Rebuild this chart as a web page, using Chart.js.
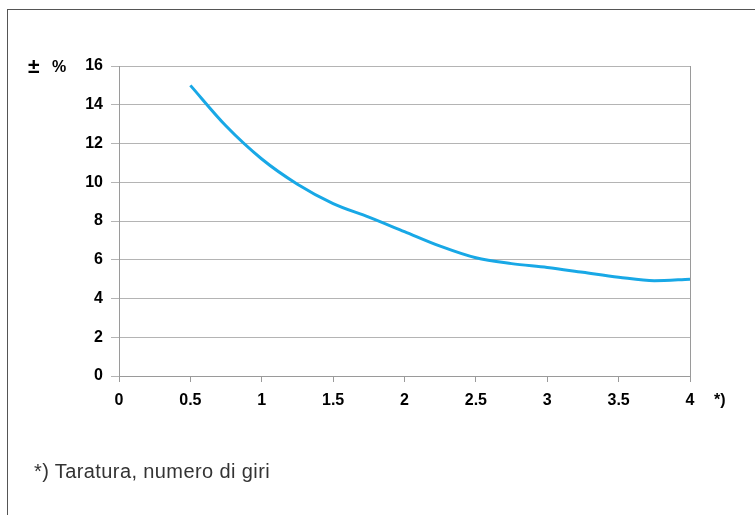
<!DOCTYPE html>
<html lang="it">
<head>
  <meta charset="UTF-8">
  <title>Taratura</title>
  <style>
    html, body { margin: 0; padding: 0; background: #fff; }
    body { width: 755px; height: 515px; position: relative; overflow: hidden; font-family: "Liberation Sans", Arial, sans-serif; }
    .frame { position: absolute; left: 7px; top: 9px; width: 800px; height: 600px; border: 1px solid #555; }
    #wrap { position: absolute; left: 0; top: 0; width: 755px; height: 515px; }
    .lbl { position: absolute; font-weight: bold; font-size: 16px; color: #000; line-height: 1; }
    .note { position: absolute; left: 34px; top: 461px; font-size: 20px; letter-spacing: 0.4px; color: #333; line-height: 1; }
  </style>
</head>
<body>
  <div class="frame"></div>
  <div id="wrap"><canvas id="chart" width="755" height="515"></canvas></div>
  <div class="lbl" style="left:28px; top:55px; font-size:21px;">±</div>
  <div class="lbl" style="left:52px; top:59px;">%</div>
  <div class="lbl" style="left:714px; top:392px;">*)</div>
  <div class="note">*) Taratura, numero di giri</div>

  <script src="https://cdn.jsdelivr.net/npm/chart.js"></script>
  <script>
    // giri di taratura
    const turns = [0.5, 0.75, 1, 1.25, 1.5, 1.75, 2, 2.25, 2.5, 2.75, 3, 3.25, 3.5, 3.75, 4];
    // tolleranza ± %
    const tolerance = [15.0, 12.9, 11.2, 9.9, 8.9, 8.2, 7.45, 6.7, 6.1, 5.8, 5.6, 5.35, 5.1, 4.92, 5.0];
    const xTicks = [0, 0.5, 1, 1.5, 2, 2.5, 3, 3.5, 4];
    const yTicks = [0, 2, 4, 6, 8, 10, 12, 14, 16];

    const points = turns.map((t, i) => ({ x: t, y: tolerance[i] }));
    const tickFont = { family: '"Liberation Sans", Arial, sans-serif', size: 16, weight: 'bold' };

    const rightBorder = {
      id: 'rightBorder',
      beforeDatasetsDraw(chart) {
        const a = chart.chartArea, c = chart.ctx;
        c.save();
        c.strokeStyle = '#9a9a9a';
        c.lineWidth = 1;
        c.beginPath();
        c.moveTo(Math.round(a.right) + 0.5, a.top);
        c.lineTo(Math.round(a.right) + 0.5, a.bottom + 6);
        c.stroke();
        c.restore();
      }
    };

    new Chart(document.getElementById('chart'), {
      type: 'line',
      data: {
        datasets: [{
          data: points,
          borderColor: '#18a8e6',
          borderWidth: 3,
          pointRadius: 0,
          fill: false,
          cubicInterpolationMode: 'monotone'
        }]
      },
      options: {
        responsive: false,
        animation: false,
        layout: { padding: { left: 0, top: 66, right: 65, bottom: 99 } },
        plugins: { legend: { display: false }, tooltip: { enabled: false } },
        scales: {
          x: {
            type: 'linear',
            min: 0, max: 4,
            afterBuildTicks: s => { s.ticks = xTicks.map(v => ({ value: v })); },
            afterFit: s => { s.height = 40; },
            grid: { drawOnChartArea: false, drawTicks: true, tickLength: 6, color: '#9a9a9a' },
            border: { color: '#9a9a9a' },
            ticks: { color: '#000', font: tickFont, padding: 9, maxRotation: 0, callback: v => String(v) }
          },
          y: {
            min: 0, max: 16,
            afterBuildTicks: s => { s.ticks = yTicks.map(v => ({ value: v })); },
            afterFit: s => { s.width = 119; },
            grid: { color: '#b4b4b4', tickLength: 8 },
            border: { color: '#9a9a9a' },
            ticks: { color: '#000', font: tickFont, padding: 8, callback: v => String(v) }
          }
        }
      },
      plugins: [rightBorder]
    });
  </script>
</body>
</html>
